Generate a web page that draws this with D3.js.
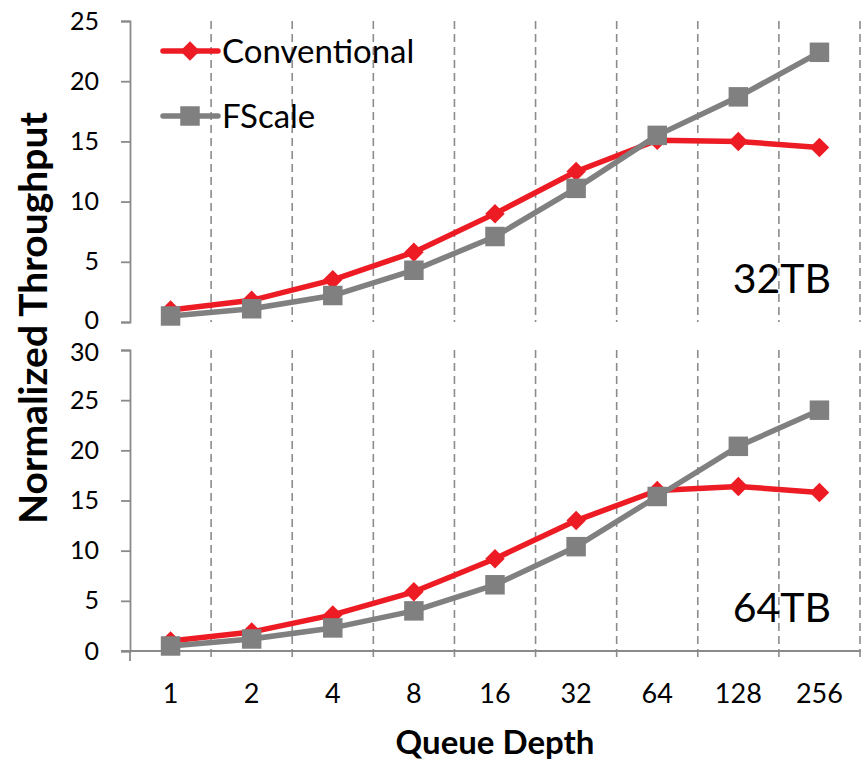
<!DOCTYPE html>
<html lang="en">
<head>
  <meta charset="utf-8"/>
  <title>Normalized Throughput vs Queue Depth</title>
  <script src="https://d3js.org/d3.v7.min.js"></script>
  <style>
    body { margin: 0; background: #fff; }
    text { font-family: Lato, "Open Sans", sans-serif; fill: #000; }
  </style>
</head>
<body>
<svg id="chart" width="861" height="760"></svg>
<script>
  // queue depths on the x axis
  const depths = ["1", "2", "4", "8", "16", "32", "64", "128", "256"];
  // 32TB panel
  const conv32 = [1.0, 1.8, 3.5, 5.8, 9.0, 12.5, 15.1, 15.0, 14.5];
  const fscale32 = [0.5, 1.1, 2.2, 4.3, 7.1, 11.1, 15.5, 18.7, 22.4];
  // 64TB panel
  const conv64 = [1.0, 1.9, 3.6, 5.9, 9.2, 13.0, 16.0, 16.4, 15.8];
  const fscale64 = [0.5, 1.2, 2.3, 4.0, 6.6, 10.4, 15.4, 20.4, 24.0];
  const ticks32 = [0, 5, 10, 15, 20, 25];
  const ticks64 = [0, 5, 10, 15, 20, 25, 30];

  const red = "#ed1c24", grey = "#808080", axisGrey = "#8a8a8a";
  const svg = d3.select("#chart");

  const x = d3.scaleBand().domain(depths).range([130, 860]).padding(0);
  const cx = d => x(d) + x.bandwidth() / 2;

  const panels = [
    {label: "32TB", conv: conv32, fs: fscale32, ticks: ticks32,
     y: d3.scaleLinear().domain([0, 25]).range([322, 21]), bottom: false},
    {label: "64TB", conv: conv64, fs: fscale64, ticks: ticks64,
     y: d3.scaleLinear().domain([0, 30]).range([651, 350]), bottom: true}
  ];

  const diamond = d3.symbol().type(d3.symbolSquare).size(190);
  const square = d3.symbol().type(d3.symbolSquare).size(380);

  panels.forEach(p => {
    const y = p.y;
    const y0 = y.range()[0], y1 = y.range()[1];
    const g = svg.append("g");

    // dashed vertical gridlines at category boundaries
    const bounds = depths.slice(1).map(d => x(d)).concat([x.range()[1]]);
    g.selectAll("line.grid").data(bounds).enter().append("line")
      .attr("class", "grid")
      .attr("x1", d => d).attr("x2", d => d)
      .attr("y1", y1).attr("y2", p.bottom ? y0 + 10 : y0)
      .attr("stroke", "#8c8c8c").attr("stroke-width", 1.6)
      .attr("stroke-dasharray", "8,5");

    // y axis
    const ax = g.append("g").attr("transform", "translate(130,0)")
      .call(d3.axisLeft(y).tickValues(p.ticks).tickSize(9).tickPadding(22));
    ax.select(".domain").attr("stroke", axisGrey).attr("stroke-width", 1.8);
    ax.selectAll(".tick line").attr("stroke", axisGrey).attr("stroke-width", 1.8);
    ax.selectAll(".tick text").attr("font-size", 25).attr("font-family", "Lato").attr("fill", "#000");
    // keep the two panels' touching labels (top 0, bottom 30) apart
    const maxTick = p.ticks[p.ticks.length - 1];
    ax.selectAll(".tick text")
      .filter(d => p.bottom ? d === maxTick : d === 0)
      .attr("transform", "translate(0," + (p.bottom ? 2 : -2) + ")");

    if (p.bottom) {
      // x axis with tick marks on boundaries
      g.append("line").attr("x1", 121).attr("x2", 861)
        .attr("y1", y0).attr("y2", y0)
        .attr("stroke", axisGrey).attr("stroke-width", 1.8);
      g.append("line").attr("x1", 130).attr("x2", 130)
        .attr("y1", y0).attr("y2", y0 + 10)
        .attr("stroke", axisGrey).attr("stroke-width", 1.8);
      g.selectAll("text.xl").data(depths).enter().append("text")
        .attr("class", "xl")
        .attr("x", d => cx(d)).attr("y", 703)
        .attr("text-anchor", "middle").attr("font-size", 27)
        .text(d => d);
    }

    const line = d3.line().x((v, i) => cx(depths[i])).y(v => y(v));

    g.append("path").datum(p.conv).attr("d", line)
      .attr("fill", "none").attr("stroke", red).attr("stroke-width", 5.5)
      .attr("stroke-linejoin", "round");
    g.selectAll("path.dm").data(p.conv).enter().append("path")
      .attr("class", "dm").attr("d", diamond).attr("fill", red)
      .attr("transform", (v, i) => "translate(" + cx(depths[i]) + "," + y(v) + ") rotate(45)");

    g.append("path").datum(p.fs).attr("d", line)
      .attr("fill", "none").attr("stroke", grey).attr("stroke-width", 5.5)
      .attr("stroke-linejoin", "round");
    g.selectAll("path.sq").data(p.fs).enter().append("path")
      .attr("class", "sq").attr("d", square).attr("fill", grey)
      .attr("transform", (v, i) => "translate(" + cx(depths[i]) + "," + y(v) + ")");

    g.append("text").attr("x", 831).attr("y", y0 - 29)
      .attr("text-anchor", "end").attr("font-size", 41)
      .text(p.label);
  });

  // legend
  const legend = [
    {name: "Conventional", color: red, sym: diamond, rot: 45, y: 51},
    {name: "FScale", color: grey, sym: square, rot: 0, y: 116}
  ];
  const lg = svg.selectAll("g.leg").data(legend).enter().append("g").attr("class", "leg");
  lg.append("line").attr("x1", 163).attr("x2", 218)
    .attr("y1", d => d.y).attr("y2", d => d.y)
    .attr("stroke", d => d.color).attr("stroke-width", 5.5).attr("stroke-linecap", "round");
  lg.append("path").attr("d", d => d.sym()).attr("fill", d => d.color)
    .attr("transform", d => "translate(190," + d.y + ") rotate(" + d.rot + ")");
  lg.append("text").attr("x", 222).attr("y", d => d.y + 12)
    .attr("font-size", 33).text(d => d.name);

  // axis titles
  svg.append("text").attr("x", 495).attr("y", 754)
    .attr("text-anchor", "middle").attr("font-size", 33).attr("font-weight", "bold")
    .text("Queue Depth");
  svg.append("text").attr("transform", "translate(47,318) rotate(-90)")
    .attr("text-anchor", "middle").attr("font-size", 39).attr("font-weight", "bold")
    .text("Normalized Throughput");
</script>
</body>
</html>
